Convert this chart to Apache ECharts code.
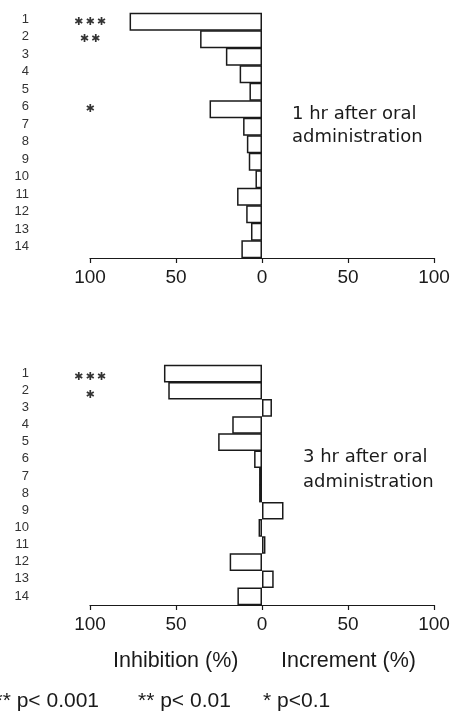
<!DOCTYPE html>
<html>
<head>
<meta charset="utf-8">
<script src="https://cdn.jsdelivr.net/npm/echarts@6/dist/echarts.min.js"></script>
<style>
  html, body { margin: 0; padding: 0; background: #fff; }
  #main { width: 451px; height: 715px; }
</style>
</head>
<body>
<div id="main"></div>
<script>
// row numbers (compounds 1..14)
var rows = ['1', '2', '3', '4', '5', '6', '7', '8', '9', '10', '11', '12', '13', '14'];
// % change, negative = inhibition, positive = increment
var oneHour = [-77, -36, -21, -13, -7.3, -30.5, -11, -8.8, -7.7, -3.8, -14.5, -9.2, -6.4, -12];
var threeHour = [-57, -54.5, 5.8, -17.3, -25.5, -4.6, -1.7, -1.7, 12.5, -2, 2, -18.8, 6.8, -14.3];
// significance marks
var oneHourStars = [['1', '***'], ['2', '**'], ['6', '*']];
var threeHourStars = [['1', '***'], ['2', '*']];
var xTicks = [-100, -50, 0, 50, 100];
var panelTitles = ['1 hr after oral\nadministration', '3 hr after oral\nadministration'];
var footnotes = ['*** p< 0.001', '** p< 0.01', '* p<0.1'];

var ink = '#1a1a1a';
var font = 'Liberation Sans';
var grids = [
	{ left: 90, top: 13, width: 344, height: 245 },
	{ left: 90, top: 365, width: 344, height: 240 }
];

function xAxisFor(idx) {
	return {
		gridIndex: idx,
		type: 'value',
		min: xTicks[0],
		max: xTicks[xTicks.length - 1],
		interval: 50,
		axisLine: { show: true, lineStyle: { color: ink, width: 1.2 } },
		axisTick: { show: true, length: 5, lineStyle: { color: ink, width: 1.2 } },
		splitLine: { show: false },
		axisLabel: {
			color: ink, fontSize: 19, fontFamily: font, margin: 10,
			formatter: function(v) { return String(Math.abs(v)); }
		}
	};
}

function yAxisFor(idx, lift) {
	// lift: how far the row number sits above the bar centre
	return {
		gridIndex: idx,
		type: 'category',
		inverse: true,
		data: rows,
		axisLine: { show: false },
		axisTick: { show: false },
		axisLabel: {
			color: '#333', fontSize: 13, fontFamily: font, margin: 61, align: 'right',
			verticalAlign: 'bottom', lineHeight: lift * 2
		}
	};
}

function barSeries(idx, data) {
	return {
		type: 'bar',
		xAxisIndex: idx,
		yAxisIndex: idx,
		data: data,
		barWidth: grids[idx].height / rows.length + 0.5,
		itemStyle: { color: '#fff', borderColor: ink, borderWidth: 1.5 },
		silent: true
	};
}

function starSeries(idx, stars, dy) {
	return {
		type: 'scatter',
		xAxisIndex: idx,
		yAxisIndex: idx,
		symbolSize: 0,
		data: stars.map(function(s) { return { value: [-100, s[0]], mark: s[1] }; }),
		label: {
			show: true,
			position: 'inside',
			offset: [0, dy],
			color: '#000',
			fontSize: 11,
			fontFamily: 'DejaVu Sans',
			formatter: function(p) { return p.data.mark.replace(/\*/g, '\u2731').split('').join('\u2009'); }
		},
		silent: true
	};
}

var chart = echarts.init(document.getElementById('main'));
chart.setOption({
	backgroundColor: '#fff',
	animation: false,
	grid: grids.map(function(g) { return Object.assign({ outerBoundsMode: 'none' }, g); }),
	xAxis: [xAxisFor(0), xAxisFor(1)],
	yAxis: [yAxisFor(0, 2.5), yAxisFor(1, 0.5)],
	series: [
		barSeries(0, oneHour),
		barSeries(1, threeHour),
		starSeries(0, oneHourStars, 0),
		starSeries(1, threeHourStars, 4)
	],
	graphic: [
		{ type: 'text', left: 292, top: 103, style: { text: panelTitles[0], fill: ink, font: '18px "DejaVu Sans"', lineHeight: 23 } },
		{ type: 'text', left: 303, top: 445, style: { text: panelTitles[1], fill: ink, font: '18px "DejaVu Sans"', lineHeight: 25 } },
		{ type: 'text', left: 113, top: 650, style: { text: 'Inhibition (%)', fill: ink, font: '21.5px "Liberation Sans"' } },
		{ type: 'text', left: 281, top: 650, style: { text: 'Increment (%)', fill: ink, font: '21.5px "Liberation Sans"' } },
		{ type: 'text', right: 352, top: 691, style: { text: footnotes[0], fill: ink, font: '21px "Liberation Sans"' } },
		{ type: 'text', left: 138, top: 691, style: { text: footnotes[1], fill: ink, font: '21px "Liberation Sans"' } },
		{ type: 'text', left: 263, top: 691, style: { text: footnotes[2], fill: ink, font: '21px "Liberation Sans"' } }
	]
});
</script>
</body>
</html>
